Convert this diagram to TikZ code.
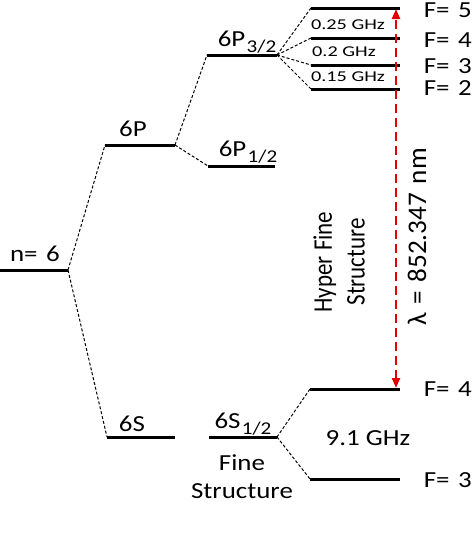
\documentclass[tikz,border=0pt]{standalone}
\usepackage{fontspec}
\setmainfont{Carlito}
\usetikzlibrary{arrows.meta}
\tikzset{
  level/.style={line width=3pt},
  split/.style={line width=1pt, dash pattern=on 3pt off 2pt},
  lbl/.style={font=\fontsize{23}{28}\selectfont, inner sep=0pt, xscale=1.17},
  flbl/.style={lbl, anchor=east},
  small/.style={font=\fontsize{15}{15}\selectfont, inner sep=0pt, xscale=1.35},
  trans/.style={red!90!black, line width=2.2pt, dash pattern=on 9pt off 5pt, {Triangle[length=10pt,width=8pt]}-{Triangle[length=10pt,width=8pt]}}
}
\newcommand{\sub}[1]{\hspace{0.05em}\raisebox{-0.5ex}{\fontsize{18}{18}\selectfont #1}}
\newcommand{\wsp}{\hspace{0.32em}}
\begin{document}
\begin{tikzpicture}[x=1pt,y=-1pt]
\useasboundingbox (0,0) rectangle (474,538);
% n=6
\coordinate (nL) at (0,270); \coordinate (nR) at (68,270);
\draw[level] (nL) -- (nR);
\node[lbl] (nlab) at (35,254) {n=\wsp6};
% 6P / 6S
\coordinate (PL) at (105,145); \coordinate (PR) at (175,145);
\coordinate (SL) at (107,437); \coordinate (SR) at (175,437);
\draw[level] (PL) -- (PR);
\draw[level] (SL) -- (SR);
\node[lbl] (Plab) at (133,129) {6P};
\node[lbl] (Slab) at (132,424) {6S};
\draw[split] (nR) -- (PL);
\draw[split] (nR) -- (SL);
% fine structure
\coordinate (P3L) at (207,55); \coordinate (P3R) at (277,55);
\coordinate (P1L) at (208,166); \coordinate (P1R) at (275,166);
\coordinate (S1L) at (209,437); \coordinate (S1R) at (277,437);
\draw[level] (P3L) -- (P3R);
\draw[level] (P1L) -- (P1R);
\draw[level] (S1L) -- (S1R);
\node[lbl] (P3lab) at (247,42) {6P\sub{3/2}};
\node[lbl] (P1lab) at (248,152) {6P\sub{1/2}};
\node[lbl] (S1lab) at (243,424) {6S\sub{1/2}};
\draw[split] (PR) -- (P3L);
\draw[split] (PR) -- (P1L);
% hyperfine 6P3/2
\foreach \n/\y in {F5/8,F4/38,F3/65,F2/89}{
  \coordinate (\n L) at (311,\y); \coordinate (\n R) at (400,\y);
  \draw[level] (\n L) -- (\n R);
  \draw[split] (P3R) -- (\n L);
}
\node[flbl] (lF5) at (472,10) {F=\wsp5};
\node[flbl] (lF4) at (472,40) {F=\wsp4};
\node[flbl] (lF3) at (472,66) {F=\wsp3};
\node[flbl] (lF2) at (472,88) {F=\wsp2};
\node[small] (g25) at (348,25) {0.25 GHz};
\node[small] (g20) at (344,52) {0.2 GHz};
\node[small] (g15) at (348,77) {0.15 GHz};
% hyperfine 6S1/2
\coordinate (G4L) at (310,389); \coordinate (G4R) at (400,389);
\coordinate (G3L) at (310,479); \coordinate (G3R) at (400,479);
\draw[level] (G4L) -- (G4R);
\draw[level] (G3L) -- (G3R);
\draw[split] (S1R) -- (G4L);
\draw[split] (S1R) -- (G3L);
\node[flbl] (lG4) at (472,389) {F=\wsp4};
\node[flbl] (lG3) at (472,480) {F=\wsp3};
\node[lbl] (g91) at (368,438) {9.1 GHz};
\node[lbl, align=center] (fine) at (242,477) {Fine\\Structure};
% transition
\coordinate (tTop) at (396,9); \coordinate (tBot) at (396,388);
\draw[trans] (tBot) -- (tTop);
\node[lbl, rotate=90, xscale=1.18] (lam) at (417,237) {λ\wsp=\wsp852.347\wsp nm};
\node[lbl, rotate=90, align=center] (hfs) at (339,262) {Hyper Fine\\Structure};
\end{tikzpicture}
\end{document}
